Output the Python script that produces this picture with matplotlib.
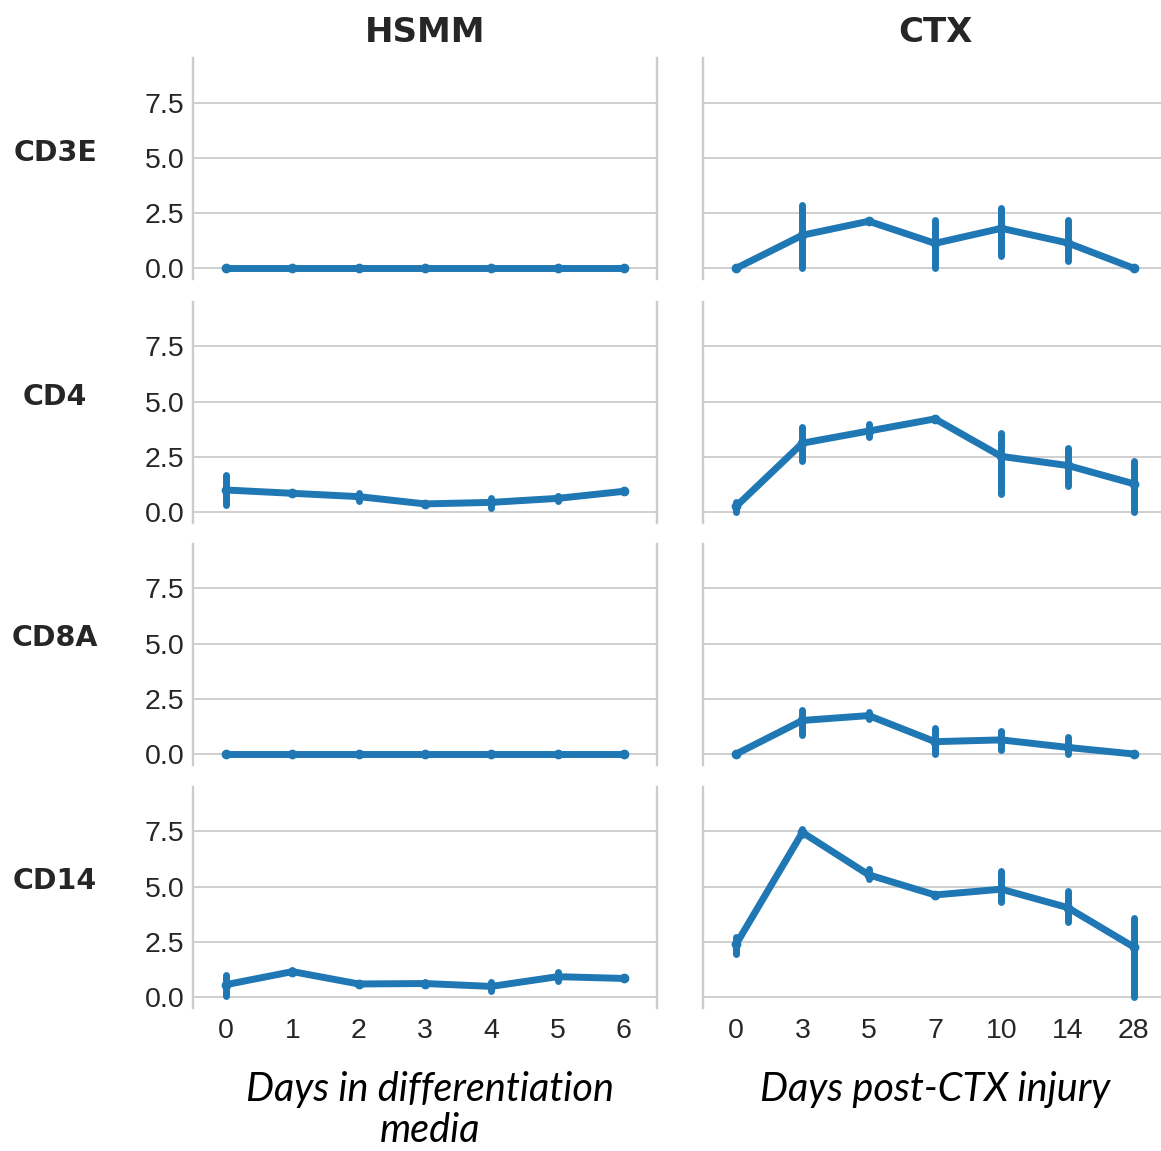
import numpy as np
import matplotlib.pyplot as plt

genes = ['CD3E', 'CD4', 'CD8A', 'CD14']
hsmm_days = ['0', '1', '2', '3', '4', '5', '6']
ctx_days = ['0', '3', '5', '7', '10', '14', '28']

# mean expression per gene (rows) and day (columns), with CI bounds
hsmm_mean = [
    [0, 0, 0, 0, 0, 0, 0],
    [1.00, 0.85, 0.70, 0.37, 0.44, 0.62, 0.94],
    [0, 0, 0, 0, 0, 0, 0],
    [0.56, 1.15, 0.59, 0.61, 0.48, 0.92, 0.84],
]
hsmm_low = [
    [0, 0, 0, 0, 0, 0, 0],
    [0.31, 0.80, 0.49, 0.31, 0.19, 0.51, 0.90],
    [0, 0, 0, 0, 0, 0, 0],
    [0.03, 1.10, 0.55, 0.57, 0.26, 0.73, 0.80],
]
hsmm_high = [
    [0, 0, 0, 0, 0, 0, 0],
    [1.66, 0.90, 0.85, 0.43, 0.64, 0.72, 0.98],
    [0, 0, 0, 0, 0, 0, 0],
    [1.00, 1.20, 0.65, 0.66, 0.70, 1.12, 0.88],
]

ctx_mean = [
    [0, 1.50, 2.13, 1.13, 1.81, 1.15, 0],
    [0.26, 3.12, 3.67, 4.22, 2.52, 2.11, 1.28],
    [0, 1.52, 1.74, 0.56, 0.64, 0.30, 0],
    [2.39, 7.45, 5.53, 4.62, 4.88, 4.05, 2.26],
]
ctx_low = [
    [0, 0.03, 2.08, 0.02, 0.54, 0.32, 0],
    [0.00, 2.33, 3.40, 4.17, 0.80, 1.17, 0.00],
    [0, 0.88, 1.60, 0.00, 0.17, 0.00, 0],
    [1.95, 7.35, 5.35, 4.57, 4.30, 3.38, 0.00],
]
ctx_high = [
    [0, 2.87, 2.18, 2.17, 2.75, 2.17, 0],
    [0.47, 3.83, 3.98, 4.27, 3.58, 2.88, 2.32],
    [0, 2.00, 1.90, 1.20, 1.05, 0.77, 0],
    [2.70, 7.62, 5.80, 4.67, 5.71, 4.79, 3.58],
]

columns = [
    ('HSMM', hsmm_days, hsmm_mean, hsmm_low, hsmm_high, 'Days in differentiation\nmedia'),
    ('CTX', ctx_days, ctx_mean, ctx_low, ctx_high, 'Days post-CTX injury'),
]

blue = '#1f77b4'
grey = '#cccccc'
tick_font = 'Liberation Sans'

fig, axes = plt.subplots(4, 2, figsize=(11.61, 11.51), dpi=100)
col_left = [0.1662, 0.6055]
row_bottom = [0.7573, 0.5455, 0.3353, 0.1242]
w, h = 0.3997, 0.1923

for j, (title, days, mean, low, high, xlabel) in enumerate(columns):
    for i, gene in enumerate(genes):
        ax = axes[i, j]
        ax.set_position([col_left[j], row_bottom[i], w, h])

        ax.plot(days, mean[i], color=blue, lw=5, marker='o', ms=6,
                solid_capstyle='round', solid_joinstyle='round', zorder=3)
        ax.vlines(days, low[i], high[i], color=blue, lw=5,
                  capstyle='round', zorder=3)

        ax.set_xlim(-0.5, 6.5)
        ax.set_ylim(-0.5, 9.52)
        ax.set_yticks([0, 2.5, 5, 7.5])
        ax.yaxis.grid(True, color=grey, lw=1.3)
        ax.xaxis.grid(False)
        ax.set_axisbelow(True)
        for side in ['top', 'bottom']:
            ax.spines[side].set_visible(False)
        for side in ['left', 'right']:
            ax.spines[side].set_color(grey)
            ax.spines[side].set_linewidth(1.7)
        ax.tick_params(length=0, labelsize=20.5, pad=6, colors='#262626')
        for lab in ax.get_xticklabels() + ax.get_yticklabels():
            lab.set_family(tick_font)

        if j == 0:
            ax.set_ylabel(gene, rotation=0, fontsize=20.5, fontweight='bold',
                          family='DejaVu Sans', color='#262626',
                          ha='center', va='center')
            ax.yaxis.set_label_coords(-0.297, 0.572)
        else:
            ax.set_yticklabels([])

        if i == 0:
            ax.set_title(title, fontsize=24.5, fontweight='bold',
                         family='DejaVu Sans', color='#262626', pad=11.5)
        if i == 3:
            ax.tick_params(axis='x', pad=7)
            ax.set_xlabel(xlabel, fontsize=28.5, style='italic', family='Lato',
                          linespacing=1.15)
            ax.xaxis.set_label_coords(0.511 if j == 0 else 0.5, -0.284)
        else:
            ax.set_xticklabels([])

fig.savefig('out.png', dpi=100)
